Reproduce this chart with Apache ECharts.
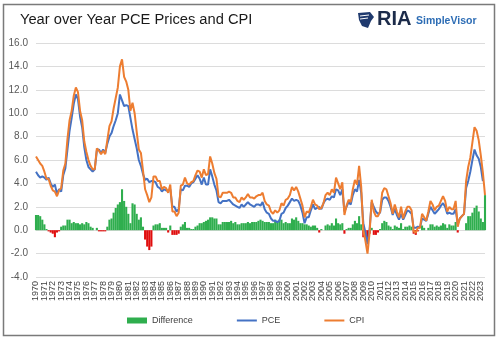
<!DOCTYPE html>
<html>
<head>
<meta charset="utf-8">
<script src="https://cdn.jsdelivr.net/npm/echarts@6/dist/echarts.min.js"></script>
<style>
html,body{margin:0;padding:0;background:#fff;}
#chart{width:500px;height:340px;}
</style>
</head>
<body>
<div id="chart"></div>
<script>
// Year labels (ticks), data are quarterly (Jan, Apr, Jul, Oct), last point Jul 2023
const years = [1970,1971,1972,1973,1974,1975,1976,1977,1978,1979,1980,1981,1982,1983,1984,1985,1986,1987,1988,1989,1990,1991,1992,1993,1994,1995,1996,1997,1998,1999,2000,2001,2002,2003,2004,2005,2006,2007,2008,2009,2010,2011,2012,2013,2014,2015,2016,2017,2018,2019,2020,2021,2022,2023];
const quarters = ['Q1','Q2','Q3','Q4'];

// CPI year-over-year %, quarterly
const cpi = [
 6.3,6.0,5.7,5.5,  5.0,4.4,4.4,3.8,  3.4,3.3,2.9,3.4,  3.6,5.1,5.7,7.8,
 9.4,10.2,11.5,12.2,  11.8,10.2,9.4,7.6,  6.7,6.0,5.5,5.2,  5.2,7.0,6.8,6.5,
 6.8,6.5,7.7,8.9,  9.3,10.4,11.3,12.2,  14.0,14.6,13.1,12.7,  12.0,10.2,10.9,10.0,
 8.4,6.9,6.6,5.1,  3.5,3.0,2.4,2.8,  4.6,4.6,4.2,4.2,  3.5,3.7,3.6,3.2,
 3.9,1.6,1.6,1.2,  1.5,3.8,3.9,4.5,  4.0,3.9,4.1,4.2,  4.7,5.1,5.0,4.5,
 5.2,4.7,4.8,6.3,  5.7,4.9,4.4,2.9,  2.8,3.2,3.2,3.2,  3.3,3.2,2.8,2.8,
 2.5,2.4,2.8,2.6,  2.8,3.1,2.8,2.8,  2.7,2.9,3.0,3.0,  3.2,2.5,2.2,2.1,
 1.6,1.4,1.7,1.5,  1.7,2.3,2.1,2.6,  2.7,3.0,3.7,3.4,  3.7,3.3,2.7,2.1,
 1.1,1.6,1.5,2.0,  2.6,2.2,2.1,1.8,  1.9,2.3,3.0,3.2,  3.0,3.5,3.2,4.5,
 4.0,3.5,4.1,1.3,  2.1,2.6,2.4,3.5,  4.3,3.9,5.5,3.7,  0.0,-0.9,-2.0,-0.2,
 2.6,1.6,1.2,1.2,  1.6,3.2,3.6,3.5,  2.9,2.3,1.4,2.2,  1.6,1.1,2.0,1.0,
 1.6,2.0,2.0,1.7,  -0.1,-0.2,0.2,0.2,  1.4,1.1,0.8,1.6,  2.5,2.2,1.7,2.0,
 2.1,2.5,2.9,2.5,  1.6,2.0,1.8,1.8,  2.5,0.3,1.0,1.2,  1.4,4.2,5.4,6.2,
 7.5,8.8,8.5,7.7,  6.4,4.9,3.0
];

// PCE price index year-over-year %, quarterly
const pce = [
 5.0,4.7,4.5,4.6,  4.5,4.3,4.5,4.0,  3.7,3.9,3.1,3.5,  3.3,4.7,5.3,6.9,
 8.5,9.6,10.8,11.6,  11.2,9.7,8.8,7.1,  6.0,5.4,5.2,5.0,  5.2,6.8,6.9,6.6,
 6.9,6.6,7.4,8.0,  8.3,8.9,9.4,10.0,  11.6,11.1,10.6,10.7,  10.6,9.6,8.6,7.8,
 7.0,6.0,5.5,4.8,  4.3,4.4,4.1,4.2,  4.2,4.1,3.7,3.6,  3.3,3.5,3.4,3.4,
 3.5,2.0,2.0,1.6,  1.8,3.5,3.4,3.8,  3.8,3.7,4.0,4.1,  4.4,4.7,4.4,3.9,
 4.5,3.9,3.9,5.2,  4.6,3.9,3.4,2.4,  2.3,2.5,2.5,2.5,  2.6,2.4,2.2,2.1,
 2.0,1.9,2.2,2.0,  2.2,2.4,2.2,2.1,  2.0,2.2,2.2,2.1,  2.4,1.8,1.5,1.4,
 1.0,0.8,0.8,0.7,  0.8,1.4,1.5,1.9,  2.1,2.4,2.7,2.5,  2.6,2.5,2.1,1.5,
 0.6,1.1,1.1,1.7,  2.2,1.8,1.9,2.0,  1.8,2.3,2.6,2.7,  2.6,2.9,2.8,3.5,
 3.4,3.0,3.5,1.6,  2.0,2.4,2.2,3.0,  3.5,3.3,4.3,3.2,  0.6,-0.2,-1.2,0.1,
 2.4,2.0,1.6,1.4,  1.5,2.6,2.8,2.8,  2.5,2.0,1.3,1.8,  1.3,0.9,1.4,0.9,
 1.3,1.7,1.6,1.4,  0.2,0.2,0.3,0.2,  1.0,0.9,0.8,1.4,  2.0,1.7,1.4,1.6,
 1.8,2.1,2.3,2.0,  1.4,1.5,1.4,1.4,  1.8,0.5,1.0,1.2,  1.4,3.6,4.2,5.0,
 6.0,6.9,6.4,6.1,  5.4,4.2,null
];

const categories = [];
years.forEach(y => quarters.forEach(q => categories.push(y + q)));
categories.length = cpi.length;

// Difference = CPI - PCE (PCE missing on the last point)
const diff = cpi.map((v, i) => Math.round((v - (pce[i] == null ? 0 : pce[i])) * 10) / 10);

const chart = echarts.init(document.getElementById('chart'), null, {renderer: 'canvas'});
const FONT = 'Liberation Sans, Arial, sans-serif';

function xAxisDef(offsetIdx, show) {
  return {
    type: 'category',
    data: categories,
    boundaryGap: false,
    position: 'bottom',
    axisLine: {show: false},
    axisTick: {show: false},
    splitLine: {show: false},
    axisLabel: {
      rotate: 90, fontSize: 9, color: '#404040', margin: 4, hideOverlap: false,
      interval: function (index) { return index % 8 === offsetIdx; },
      formatter: function (v) { return v.slice(0, 4); }
    }
  };
}

chart.setOption({
  animation: false,
  backgroundColor: '#fff',
  textStyle: {fontFamily: FONT},
  grid: {left: 36, right: 15, top: 43, bottom: 63, containLabel: false},
  legend: {
    left: 127, top: 316, padding: 0,
    itemWidth: 20, itemHeight: 6, itemGap: 44,
    textStyle: {fontSize: 9, color: '#404040', fontFamily: FONT},
    data: [
      {name: 'Difference', icon: 'rect'},
      {name: 'PCE', icon: 'path://M0,0H20V2H0Z'},
      {name: 'CPI', icon: 'path://M0,0H20V2H0Z'}
    ]
  },
  // even years on one axis, odd years on a twin axis (same positions)
  xAxis: [xAxisDef(0), xAxisDef(4)],
  yAxis: {
    type: 'value', min: -4, max: 16, interval: 2,
    axisLine: {show: false}, axisTick: {show: false},
    axisLabel: {fontSize: 10, color: '#595959', margin: 8, formatter: v => v.toFixed(1)},
    splitLine: {lineStyle: {color: '#dcdcdc', width: 1}}
  },
  series: [
    {
      name: 'Difference', type: 'bar', data: diff, xAxisIndex: 0,
      barWidth: '100%', barGap: '-100%',
      itemStyle: {color: function (p) { return p.value < 0 ? '#e00d0d' : '#2fae4e'; }},
      color: '#2fae4e'
    },
    {
      name: 'PCE', type: 'line', data: pce, symbol: 'none', connectNulls: false, xAxisIndex: 0,
      color: '#4472c4', itemStyle: {color: '#4472c4'}, lineStyle: {width: 2, color: '#4472c4'}
    },
    {
      name: 'CPI', type: 'line', data: cpi, symbol: 'none', xAxisIndex: 0,
      color: '#ed7d31', itemStyle: {color: '#ed7d31'}, lineStyle: {width: 2, color: '#ed7d31'}
    }
  ],
  graphic: [
    {type: 'rect', shape: {x: 3.5, y: 4.5, width: 491, height: 331},
     style: {fill: 'none', stroke: '#7a7a7a', lineWidth: 1.5}, silent: true, z: 100},
    {type: 'text', left: 20, top: 12,
     style: {text: 'Year over Year PCE Prices and CPI', fill: '#1a1a1a', font: '14.7px ' + FONT}},
    {type: 'polygon', shape: {points: [[358,13],[370,12],[374,17],[371,21],[368,28],[362,26],[359,20]]},
     style: {fill: '#1f3a6e'}},
    {type: 'polyline', shape: {points: [[360,16],[369,15]]}, style: {stroke: '#ffffff', lineWidth: 1}},
    {type: 'polyline', shape: {points: [[360,19],[368,18]]}, style: {stroke: '#ffffff', lineWidth: 1}},
    {type: 'text', left: 377, top: 9,
     style: {text: 'RIA', fill: '#1c2b4a', font: 'bold 20px ' + FONT}},
    {type: 'text', left: 416, top: 16,
     style: {text: 'SimpleVisor', fill: '#2d6db5', font: 'bold 10.5px ' + FONT}}
  ]
});
</script>
</body>
</html>
